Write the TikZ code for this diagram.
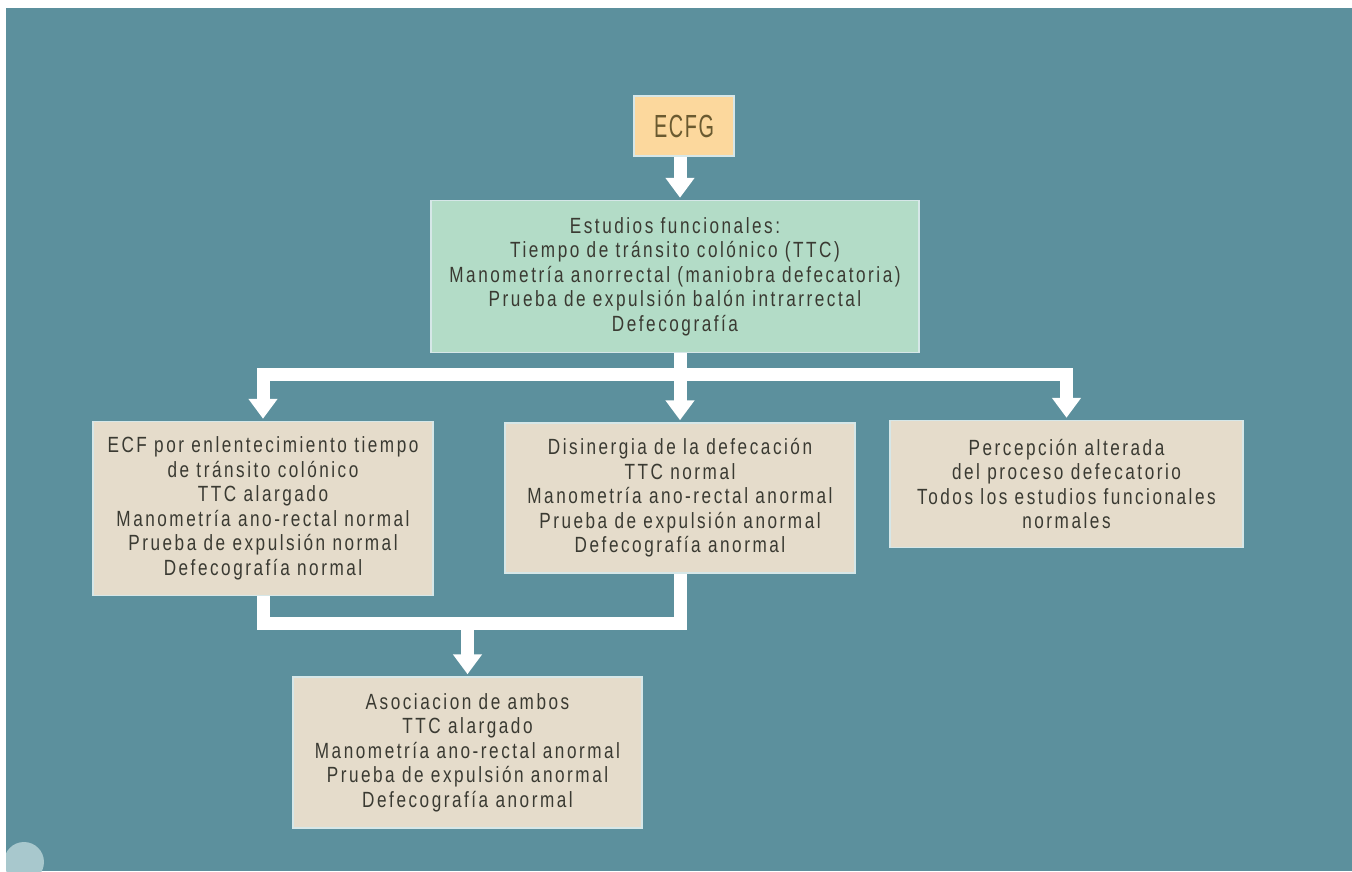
\documentclass[tikz,border=0pt]{standalone}
\usepackage{fontspec}
\setmainfont{Liberation Sans}[FakeStretch=0.78,LetterSpace=11.5]
\newfontfamily\ecfgfont{Liberation Sans}[FakeStretch=0.62,LetterSpace=5]
\usetikzlibrary{arrows.meta}
\definecolor{bg}{HTML}{5C909D}
\definecolor{beige}{HTML}{E5DCCB}
\definecolor{mint}{HTML}{B3DCC7}
\definecolor{peach}{HTML}{FCD89D}
\definecolor{boxline}{HTML}{D6E7E8}
\definecolor{txt}{HTML}{3A3A32}
\definecolor{ecfgtxt}{HTML}{6A5A30}
\definecolor{circ}{HTML}{A8C8CD}
\begin{document}
\begin{tikzpicture}[x=1pt,y=-1pt,
  box/.style={draw=boxline, line width=1.5pt, fill=beige, align=center, text=txt,
    font=\fontsize{22}{24.5}\selectfont, inner sep=0pt},
  wline/.style={draw=white, line width=13pt},
  arr/.style={wline, -{Triangle[width=28pt,length=20pt]}, shorten >=2pt}]
\useasboundingbox (0,0) rectangle (1352,871);
\begin{scope}
\clip (0,0) rectangle (1352,871);
\fill[bg] (0,0) rectangle (1352,871);
\fill[circ] (24,862) circle (20);
\fill[white] (0,0) rectangle (1352,8);
\fill[white] (0,0) rectangle (6,871);
\end{scope}

\node[box, fill=peach, text=ecfgtxt, font=\ecfgfont\fontsize{32}{34}\selectfont,
  minimum width=100pt, minimum height=60pt] (e) at (684,126) {ECFG};
\node[box, fill=mint, minimum width=488pt, minimum height=152pt] (g) at (675,276.5)
  {Estudios funcionales:\\Tiempo de tránsito colónico (TTC)\\Manometría anorrectal (maniobra defecatoria)\\Prueba de expulsión balón intrarrectal\\Defecografía};
\node[box, minimum width=340pt, minimum height=174pt] (l) at (263,508.5)
  {ECF por enlentecimiento tiempo\\de tránsito colónico\\TTC alargado\\Manometría ano-rectal normal\\Prueba de expulsión normal\\Defecografía normal};
\node[box, minimum width=350pt, minimum height=150pt] (m) at (680,498)
  {Disinergia de la defecación\\TTC normal\\Manometría ano-rectal anormal\\Prueba de expulsión anormal\\Defecografía anormal};
\node[box, minimum width=353pt, minimum height=127pt] (r) at (1066.5,484)
  {Percepción alterada\\del proceso defecatorio\\Todos los estudios funcionales\\normales};
\node[box, minimum width=349pt, minimum height=151pt] (b) at (467.5,752.5)
  {Asociacion de ambos\\TTC alargado\\Manometría ano-rectal anormal\\Prueba de expulsión anormal\\Defecografía anormal};

\coordinate (bar) at (680,374.5);
\coordinate (mg) at (467.5,623);

\draw[arr] (m.north |- e.south) -- (m.north |- g.north);
\draw[arr] (m.north |- g.south) -- (m.north);
\draw[arr] (bar) -| (l.north);
\draw[arr] (bar) -| (r.north);
\draw[wline] (l.south) |- (mg) -| (m.south);
\draw[arr] (mg) -- (b.north);
\end{tikzpicture}
\end{document}
